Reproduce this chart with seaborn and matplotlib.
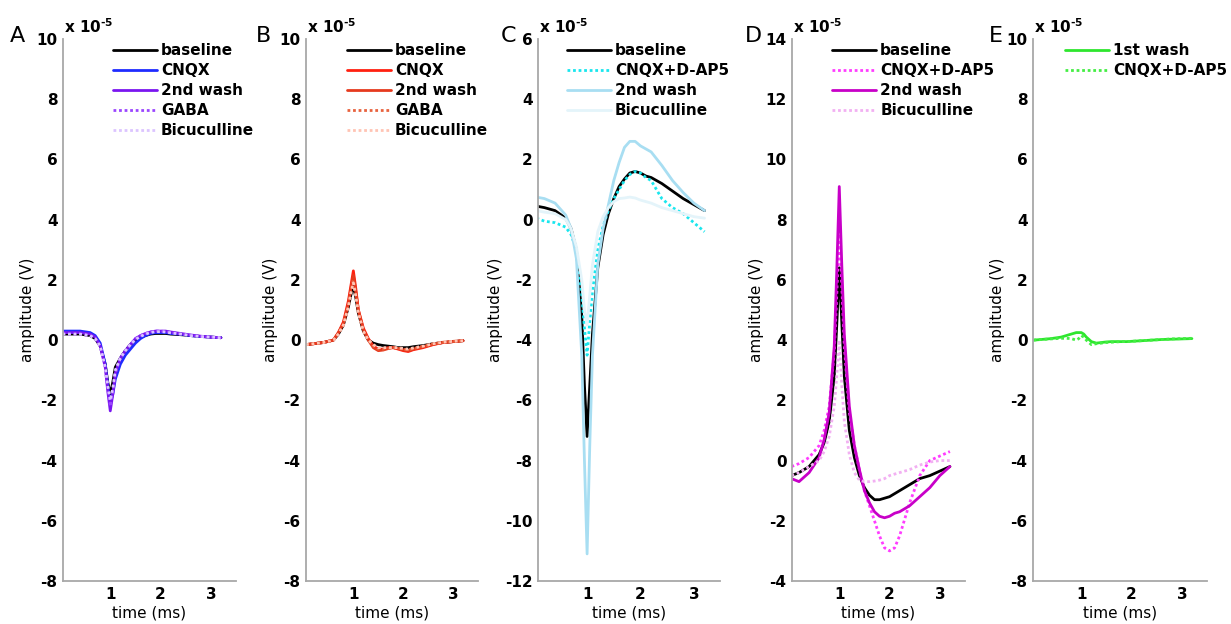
import numpy as np
import pandas as pd
import seaborn as sns
import matplotlib.pyplot as plt

# time grid (ms), shared by every trace
t = [0.05, 0.2, 0.4, 0.6, 0.7, 0.8, 0.9, 0.95, 1.0, 1.05, 1.1, 1.2, 1.3, 1.4,
     1.5, 1.6, 1.7, 1.8, 1.9, 2.0, 2.1, 2.2, 2.4, 2.6, 2.8, 3.0, 3.2]

# amplitudes in units of 1e-5 V
a_baseline = [0.2, 0.2, 0.2, 0.15, 0.05, -0.2, -0.8, -1.4, -1.8, -1.4, -0.9, -0.6, -0.35, -0.15,
              0.0, 0.1, 0.15, 0.2, 0.22, 0.22, 0.22, 0.2, 0.18, 0.15, 0.12, 0.1, 0.08]
a_cnqx = [0.3, 0.3, 0.3, 0.25, 0.15, -0.1, -0.8, -1.5, -2.1, -1.8, -1.3, -0.8, -0.5, -0.3,
          -0.1, 0.05, 0.15, 0.22, 0.25, 0.25, 0.25, 0.22, 0.2, 0.15, 0.12, 0.1, 0.08]
a_wash2 = [0.25, 0.25, 0.25, 0.2, 0.1, -0.2, -0.9, -1.7, -2.35, -1.8, -1.1, -0.6, -0.35, -0.15,
           0.05, 0.15, 0.22, 0.27, 0.3, 0.3, 0.3, 0.27, 0.22, 0.17, 0.13, 0.1, 0.08]
a_gaba = [0.2, 0.2, 0.2, 0.15, 0.05, -0.2, -0.9, -1.6, -2.2, -1.7, -1.1, -0.6, -0.35, -0.15,
          0.05, 0.15, 0.22, 0.27, 0.3, 0.3, 0.28, 0.25, 0.2, 0.16, 0.12, 0.1, 0.08]
a_bic = [0.2, 0.2, 0.2, 0.15, 0.05, -0.2, -0.9, -1.5, -2.0, -1.6, -1.0, -0.6, -0.35, -0.15,
         0.02, 0.12, 0.2, 0.25, 0.28, 0.28, 0.27, 0.24, 0.2, 0.15, 0.12, 0.1, 0.08]

b_baseline = [-0.15, -0.12, -0.08, 0.0, 0.2, 0.5, 1.1, 1.5, 1.8, 1.4, 0.9, 0.3, 0.0, -0.1,
              -0.15, -0.18, -0.2, -0.22, -0.25, -0.25, -0.25, -0.22, -0.18, -0.12, -0.08, -0.05, -0.02]
b_cnqx = [-0.15, -0.12, -0.08, 0.0, 0.25, 0.6, 1.3, 1.8, 2.3, 1.7, 1.0, 0.4, 0.05, -0.2,
          -0.3, -0.3, -0.25, -0.25, -0.3, -0.35, -0.38, -0.32, -0.25, -0.15, -0.08, -0.05, -0.02]
b_wash2 = [-0.15, -0.12, -0.08, 0.0, 0.25, 0.55, 1.2, 1.7, 2.15, 1.6, 1.0, 0.35, 0.0, -0.25,
           -0.35, -0.33, -0.28, -0.25, -0.28, -0.32, -0.35, -0.3, -0.22, -0.14, -0.08, -0.05, -0.02]
b_gaba = [-0.15, -0.12, -0.08, 0.0, 0.22, 0.5, 1.15, 1.6, 2.0, 1.5, 0.95, 0.3, 0.0, -0.2,
          -0.3, -0.3, -0.27, -0.25, -0.27, -0.3, -0.32, -0.28, -0.2, -0.12, -0.07, -0.04, -0.02]
b_bic = [-0.15, -0.12, -0.08, 0.0, 0.2, 0.5, 1.1, 1.55, 1.9, 1.45, 0.9, 0.3, 0.0, -0.15,
         -0.25, -0.25, -0.25, -0.25, -0.25, -0.28, -0.3, -0.26, -0.2, -0.12, -0.07, -0.04, -0.02]

c_baseline = [0.45, 0.4, 0.3, 0.05, -0.3, -1.0, -3.2, -5.5, -7.2, -5.5, -3.8, -1.6, -0.5, 0.2,
              0.7, 1.1, 1.35, 1.55, 1.6, 1.55, 1.45, 1.4, 1.2, 0.95, 0.7, 0.5, 0.3]
c_cnqx_ap5 = [0.05, -0.05, -0.1, -0.25, -0.5, -1.0, -2.5, -3.6, -4.5, -3.4, -2.4, -1.0, -0.2, 0.3,
              0.7, 1.0, 1.3, 1.5, 1.6, 1.55, 1.4, 1.3, 0.7, 0.4, 0.2, -0.1, -0.4]
c_wash2 = [0.75, 0.7, 0.55, 0.15, -0.3, -1.3, -4.5, -8.0, -11.1, -7.5, -4.5, -1.5, -0.3, 0.5,
           1.3, 1.9, 2.4, 2.6, 2.6, 2.45, 2.35, 2.25, 1.8, 1.3, 0.9, 0.55, 0.3]
c_bic = [0.3, 0.25, 0.2, 0.0, -0.3, -0.9, -2.0, -3.0, -3.5, -2.5, -1.5, -0.4, 0.1, 0.4,
         0.6, 0.7, 0.72, 0.75, 0.72, 0.65, 0.6, 0.55, 0.4, 0.3, 0.2, 0.1, 0.05]

d_baseline = [-0.5, -0.4, -0.2, 0.2, 0.6, 1.3, 2.8, 4.5, 6.4, 4.6, 2.8, 1.0, 0.1, -0.5,
              -0.9, -1.15, -1.3, -1.3, -1.25, -1.2, -1.1, -1.0, -0.8, -0.6, -0.5, -0.35, -0.2]
d_cnqx_ap5 = [-0.2, -0.1, 0.1, 0.5, 1.0, 1.8, 3.6, 5.5, 7.8, 5.8, 3.8, 1.6, 0.5, -0.3,
              -1.0, -1.5, -2.0, -2.5, -2.9, -3.0, -2.9, -2.5, -1.4, -0.5, 0.0, 0.15, 0.3]
d_wash2 = [-0.6, -0.7, -0.4, 0.1, 0.7, 1.6, 3.8, 6.3, 9.1, 6.5, 4.2, 1.8, 0.5, -0.3,
           -1.0, -1.4, -1.7, -1.85, -1.9, -1.85, -1.75, -1.7, -1.5, -1.2, -0.9, -0.5, -0.2]
d_bic = [-0.5, -0.4, -0.2, 0.0, 0.3, 0.8, 1.8, 2.8, 4.0, 2.5, 1.3, 0.2, -0.4, -0.65,
         -0.7, -0.7, -0.68, -0.65, -0.6, -0.5, -0.45, -0.4, -0.3, -0.15, -0.05, 0.0, 0.0]

e_wash1 = [0.0, 0.02, 0.05, 0.1, 0.15, 0.2, 0.25, 0.25, 0.25, 0.2, 0.1, -0.05, -0.1, -0.08,
           -0.06, -0.05, -0.05, -0.05, -0.05, -0.04, -0.03, -0.02, 0.0, 0.02, 0.03, 0.04, 0.05]
e_cnqx_ap5 = [0.0, 0.02, 0.04, 0.06, 0.06, 0.05, 0.0, 0.05, 0.15, 0.1, 0.0, -0.15, -0.12, -0.1,
              -0.08, -0.07, -0.06, -0.05, -0.05, -0.04, -0.03, -0.02, 0.0, 0.02, 0.04, 0.05, 0.06]

DOT = (0, (1, 1))

panels = [
    dict(letter="A", ylim=(-8, 10), xlim=(0.06, 3.5), box=(63, 236), leg_x=113, let_x=10,
         traces=[("baseline", a_baseline, "black", "-"),
                 ("CNQX", a_cnqx, "#1f2bff", "-"),
                 ("2nd wash", a_wash2, "#7a16f0", "-"),
                 ("GABA", a_gaba, "#9b45ff", DOT),
                 ("Bicuculline", a_bic, "#dcc4ff", DOT)]),
    dict(letter="B", ylim=(-8, 10), xlim=(0.05, 3.5), box=(306, 478), leg_x=347, let_x=256,
         traces=[("baseline", b_baseline, "black", "-"),
                 ("CNQX", b_cnqx, "#ff2010", "-"),
                 ("2nd wash", b_wash2, "#e63a1e", "-"),
                 ("GABA", b_gaba, "#e8623e", DOT),
                 ("Bicuculline", b_bic, "#ffc4b4", DOT)]),
    dict(letter="C", ylim=(-12, 6), xlim=(0.08, 3.49), box=(538, 720), leg_x=567, let_x=501,
         traces=[("baseline", c_baseline, "black", "-"),
                 ("CNQX+D-AP5", c_cnqx_ap5, "#19e6ee", DOT),
                 ("2nd wash", c_wash2, "#a8def2", "-"),
                 ("Bicuculline", c_bic, "#e4f4fa", "-")]),
    dict(letter="D", ylim=(-4, 14), xlim=(0.06, 3.5), box=(792, 965), leg_x=832, let_x=745,
         traces=[("baseline", d_baseline, "black", "-"),
                 ("CNQX+D-AP5", d_cnqx_ap5, "#ff3cff", DOT),
                 ("2nd wash", d_wash2, "#c800c8", "-"),
                 ("Bicuculline", d_bic, "#f2b0f2", DOT)]),
    dict(letter="E", ylim=(-8, 10), xlim=(0.04, 3.5), box=(1033, 1207), leg_x=1065, let_x=989,
         traces=[("1st wash", e_wash1, "#2ee62e", "-"),
                 ("CNQX+D-AP5", e_cnqx_ap5, "#44ee44", DOT)]),
]

sns.set_theme(style="white")
plt.rcParams["font.family"] = ["DejaVu Sans"]
plt.rcParams["axes.unicode_minus"] = False
plt.rcParams["text.color"] = "black"
plt.rcParams["axes.labelcolor"] = "black"
plt.rcParams["xtick.labelcolor"] = "black"
plt.rcParams["ytick.labelcolor"] = "black"
plt.rcParams["mathtext.fontset"] = "custom"
plt.rcParams["mathtext.rm"] = "DejaVu Sans:bold"
plt.rcParams["mathtext.default"] = "rm"

W, H = 1231, 624
fig = plt.figure(figsize=(W / 100, H / 100), dpi=100)
top, bottom = 39, 581
spine_col = "#a8a8a8"
fs = 11

for p in panels:
    x0, x1 = p["box"]
    ax = fig.add_axes([x0 / W, 1 - bottom / H, (x1 - x0) / W, (bottom - top) / H])
    for label, vals, col, ls in p["traces"]:
        df = pd.DataFrame({"t": t, "v": vals})
        sns.lineplot(data=df, x="t", y="v", ax=ax, color=col, linestyle=ls,
                     linewidth=2, label=label, sort=False)
    ax.set_xlim(*p["xlim"])
    ax.set_ylim(*p["ylim"])
    ax.set_xticks([1, 2, 3])
    ax.set_yticks(np.arange(p["ylim"][0], p["ylim"][1] + 1, 2))
    for tl in ax.get_xticklabels() + ax.get_yticklabels():
        tl.set_fontweight("bold")
    ax.tick_params(direction="in", length=3, color=spine_col, labelsize=fs, pad=4,
                   labelcolor="black")
    for s in ["top", "right"]:
        ax.spines[s].set_visible(False)
    for s in ["left", "bottom"]:
        ax.spines[s].set_color(spine_col)
        ax.spines[s].set_linewidth(1.3)
    ax.set_xlabel("time (ms)", fontsize=fs, labelpad=3, color="black")
    ax.set_ylabel("amplitude (V)", fontsize=fs, labelpad=1, color="black")

    leg = ax.legend(loc="upper left", frameon=False, prop={"weight": "bold", "size": fs},
                    bbox_to_anchor=(p["leg_x"] / W, 1 - 43 / H), bbox_transform=fig.transFigure,
                    borderpad=0, borderaxespad=0, handlelength=2.9, handletextpad=0.25,
                    labelspacing=0.33)
    for txt in leg.get_texts():
        txt.set_color("black")

    fig.text(x0 / W + 0.0005, 1 - 33 / H, r"x 10$^{\text{-5}}$", fontsize=fs,
             fontweight="bold", va="baseline", ha="left", color="black")
    fig.text(p["let_x"] / W, 1 - 42 / H, p["letter"], fontsize=16, va="baseline", ha="left",
             color="black")

fig.savefig("out.png", dpi=100)
